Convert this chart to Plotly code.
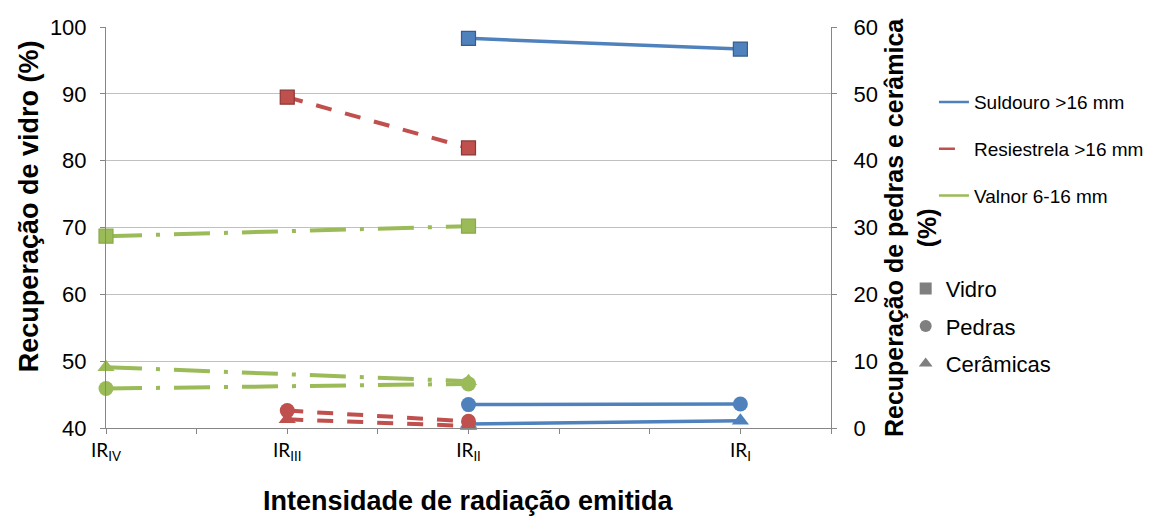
import plotly.graph_objects as go

# Radiation intensity levels, placed on an 8-step horizontal scale
categories = ["IR<sub>IV</sub>", "IR<sub>III</sub>", "IR<sub>II</sub>", "IR<sub>I</sub>"]
category_pos = [0, 2, 4, 7]

# Suldouro >16 mm (IR_II, IR_I)
suldouro_x = [4, 7]
suldouro_vidro = [98.3, 96.7]
suldouro_pedras = [3.5, 3.6]
suldouro_ceramicas = [0.6, 1.1]

# Resiestrela >16 mm (IR_III, IR_II)
resiestrela_x = [2, 4]
resiestrela_vidro = [89.5, 81.9]
resiestrela_pedras = [2.6, 1.0]
resiestrela_ceramicas = [1.3, 0.3]

# Valnor 6-16 mm (IR_IV, IR_II)
valnor_x = [0, 4]
valnor_vidro = [68.7, 70.2]
valnor_pedras = [5.9, 6.6]
valnor_ceramicas = [9.1, 7.0]

BLUE, BLUE_DK = "#4F81BD", "#385D8A"
RED, RED_DK = "#C0504D", "#8C3836"
GREEN, GREEN_DK = "#9BBB59", "#8AAA48"
GRAY = "#7F7F7F"

series = [
    ("Suldouro >16 mm", suldouro_x, suldouro_vidro, suldouro_pedras, suldouro_ceramicas,
     BLUE, BLUE_DK, dict(width=3.5, dash="solid")),
    ("Resiestrela >16 mm", resiestrela_x, resiestrela_vidro, resiestrela_pedras, resiestrela_ceramicas,
     RED, RED_DK, dict(width=4, dash="16px,14px")),
    ("Valnor 6-16 mm", valnor_x, valnor_vidro, valnor_pedras, valnor_ceramicas,
     GREEN, GREEN_DK, dict(width=4, dash="36px,14px,4px,14px")),
]

fig = go.Figure()

for name, xs, vidro, pedras, ceram, color, dark, line in series:
    line = dict(line, color=color)
    fig.add_trace(go.Scatter(
        x=xs, y=vidro, yaxis="y", mode="lines+markers", line=line,
        marker=dict(symbol="square", size=14, color=color, line=dict(color=dark, width=1.2)),
        showlegend=False, cliponaxis=False, hoverinfo="skip"))
    fig.add_trace(go.Scatter(
        x=xs, y=pedras, yaxis="y2", mode="lines+markers", line=line,
        marker=dict(symbol="circle", size=15, color=color),
        showlegend=False, cliponaxis=False, hoverinfo="skip"))
    fig.add_trace(go.Scatter(
        x=xs, y=ceram, yaxis="y2", mode="lines+markers", line=line,
        marker=dict(symbol="triangle-up", size=15, color=color),
        showlegend=False, cliponaxis=False, hoverinfo="skip"))

# Legend entries: one per sampling location (line style)
for name, xs, vidro, pedras, ceram, color, dark, line in series:
    fig.add_trace(go.Scatter(
        x=[None], y=[None], mode="lines", name=name,
        line=dict(line, color=color, width=2.5),
        legend="legend", legendgroup=name, showlegend=True))

# Legend entries: one per material (marker shape)
for label, symbol in [("Vidro", "square"), ("Pedras", "circle"), ("Cerâmicas", "triangle-up")]:
    fig.add_trace(go.Scatter(
        x=[None], y=[None], mode="markers", name=label,
        marker=dict(symbol=symbol, size=12, color=GRAY),
        legend="legend2", legendgroup=label, showlegend=True))

axis_gray = "#868686"
grid_gray = "#C0C0C0"
tick_font = dict(family="Liberation Sans, Arial", size=22, color="#000000")
title_font = dict(family="Liberation Sans, Arial", size=27, color="#000000")
right_title_font = dict(family="Liberation Sans, Arial", size=25, color="#000000")

fig.update_layout(
    width=1161, height=516,
    margin=dict(l=106, r=324, t=27, b=88),
    plot_bgcolor="white", paper_bgcolor="white",
    xaxis=dict(
        range=[0, 8], tickmode="array", tickvals=category_pos, ticktext=categories,
        showgrid=False, zeroline=False, showline=True, linecolor=axis_gray, linewidth=1,
        ticks="outside", ticklen=5, tickcolor=axis_gray,
        minor=dict(tickmode="linear", tick0=0, dtick=1, ticks="outside", ticklen=5,
                   tickcolor=axis_gray, showgrid=False),
        tickfont=dict(family="Lato, Liberation Sans", size=19, color="#000000"),
    ),
    yaxis=dict(
        range=[40, 100], tickvals=[40, 50, 60, 70, 80, 90, 100],
        showgrid=True, gridcolor=grid_gray, gridwidth=1, zeroline=False,
        showline=True, linecolor=axis_gray, linewidth=1,
        ticks="outside", ticklen=5, tickcolor=axis_gray, tickfont=tick_font,
        ticklabelstandoff=9,
    ),
    yaxis2=dict(
        range=[0, 60], tickvals=[0, 10, 20, 30, 40, 50, 60], overlaying="y", side="right",
        showgrid=False, zeroline=False, showline=True, linecolor=axis_gray, linewidth=1,
        ticks="outside", ticklen=5, tickcolor=axis_gray, tickfont=tick_font,
        ticklabelstandoff=12,
    ),
    legend=dict(
        x=1.142, xanchor="left", y=0.86, yanchor="top",
        font=dict(family="Liberation Sans, Arial", size=19, color="#000000"),
        tracegroupgap=19, bgcolor="rgba(0,0,0,0)", itemwidth=30,
    ),
    legend2=dict(
        x=1.103, xanchor="left", y=0.40, yanchor="top",
        font=dict(family="Liberation Sans, Arial", size=22, color="#000000"),
        tracegroupgap=6, bgcolor="rgba(0,0,0,0)", itemwidth=30,
    ),
    annotations=[
        dict(text="<b>Recuperação de vidro (%)</b>", xref="paper", yref="paper",
             x=-0.106, y=0.5536, xanchor="center", yanchor="middle", textangle=-90,
             showarrow=False, font=title_font),
        dict(text="<b>Recuperação de pedras e cerâmica<br>(%)</b>", xref="paper", yref="paper",
             x=1.1097, y=0.5, xanchor="center", yanchor="middle", textangle=-90,
             showarrow=False, font=right_title_font),
        dict(text="<b>Intensidade de radiação emitida</b>", xref="paper", yref="paper",
             x=0.5, y=-0.183, xanchor="center", yanchor="middle",
             showarrow=False, font=title_font),
    ],
)

fig.write_html("out.html")
